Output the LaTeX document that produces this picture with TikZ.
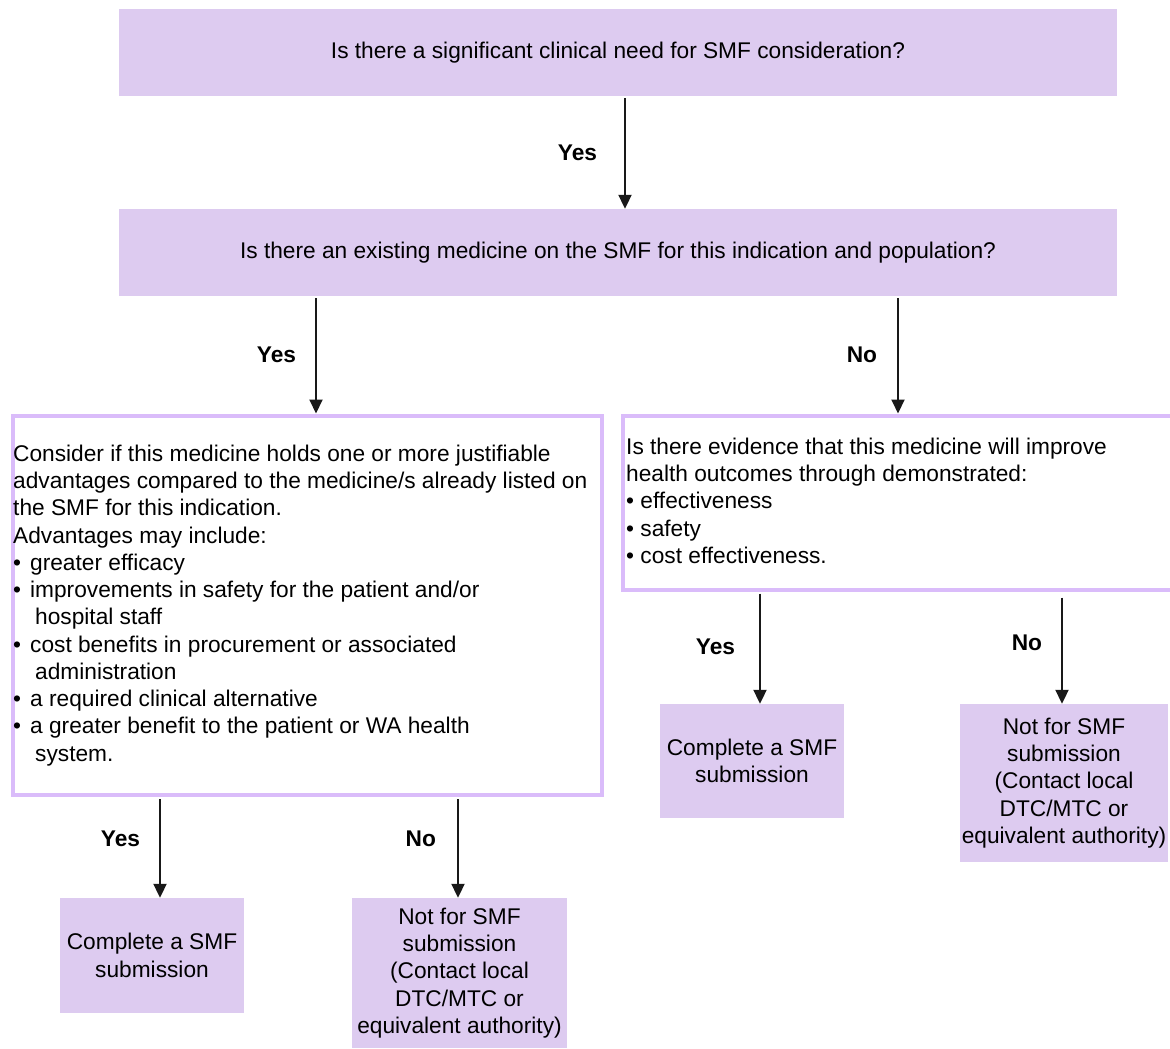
\documentclass[tikz,border=0pt]{standalone}
\usepackage{fontspec}
\setmainfont{Liberation Sans}
\usetikzlibrary{arrows.meta}
\definecolor{lav}{RGB}{221,203,240}
\definecolor{lavline}{RGB}{218,188,250}
\newcommand{\lbul}{\makebox[17pt][l]{•}}
\begin{document}
\begin{tikzpicture}[x=1pt,y=-1pt,
  fsz/.style={font=\fontsize{22.7}{27.25}\selectfont},
  filled/.style={fsz, fill=lav, draw=none, inner sep=0pt, align=center, text=black},
  wbox/.style={draw=lavline, line width=4pt, fill=none, inner sep=0pt, anchor=north west},
  btext/.style={fsz, anchor=north west, align=left, inner sep=0pt},
  arr/.style={line width=2pt, draw=black!90, -{Triangle[width=13pt,length=14pt]}, shorten <=2pt},
  lbl/.style={fsz, font=\fontsize{22.7}{27.25}\selectfont\bfseries, inner sep=0pt}
]
\clip (0,0) rectangle (1170,1049);
\fill[white] (0,0) rectangle (1170,1049);

% filled boxes
\node[filled, minimum width=998pt, minimum height=87pt] (q1) at (618,52.5)
  {Is there a significant clinical need for SMF consideration?};
\node[filled, minimum width=998pt, minimum height=87pt] (q2) at (618,252.5)
  {Is there an existing medicine on the SMF for this indication and population?};
\node[filled, minimum width=184pt, minimum height=115pt] (y1) at (152,955.5)
  {Complete a SMF\\submission};
\node[filled, minimum width=215pt, minimum height=150pt] (n1) at (459.5,973)
  {Not for SMF\\submission\\(Contact local\\DTC/MTC or\\equivalent authority)};
\node[filled, minimum width=184pt, minimum height=114pt] (y2) at (752,761)
  {Complete a SMF\\submission};
\node[filled, minimum width=208pt, minimum height=158pt] (n2) at (1064,783)
  {Not for SMF\\submission\\(Contact local\\DTC/MTC or\\equivalent authority)};

% white boxes
\node[wbox, minimum width=589pt, minimum height=379.5pt] (c1) at (10.5,413.5) {};
\node[wbox, minimum width=570pt, minimum height=174pt] (c2) at (621,413.5) {};

\node[btext] (c1t) at (13,442) {\strut Consider if this medicine holds one or more justifiable\\
advantages compared to the medicine/s already listed on\\
the SMF for this indication.\\
Advantages may include:\\
\lbul greater efficacy\\
\lbul improvements in safety for the patient and/or\\
\hspace*{22pt}hospital staff\\
\lbul cost benefits in procurement or associated\\
\hspace*{22pt}administration\\
\lbul a required clinical alternative\\
\lbul a greater benefit to the patient or WA health\\
\hspace*{22pt}system.};

\node[btext] (c2t) at (626,435) {\strut Is there evidence that this medicine will improve\\
health outcomes through demonstrated:\\
• effectiveness\\
• safety\\
• cost effectiveness.};

% connector x positions
\coordinate (xa) at (625,0);
\coordinate (xb) at (316,0);
\coordinate (xc) at (898,0);
\coordinate (xd) at (160,0);
\coordinate (xe) at (458,0);
\coordinate (xf) at (760,0);
\coordinate (xg) at (1062,0);

\draw[arr] (q1.south -| xa) -- (q2.north -| xa)
  node[lbl, midway, left=27pt] (l1) {Yes};
\draw[arr] (q2.south -| xb) -- (c1.north -| xb)
  node[lbl, midway, left=19pt] (l2) {Yes};
\draw[arr] (q2.south -| xc) -- (c2.north -| xc)
  node[lbl, midway, left=20pt] (l3) {No};
\draw[arr] (c1.south -| xd) -- (y1.north -| xd)
  node[lbl, midway, left=19pt, yshift=9pt] (l4) {Yes};
\draw[arr] (c1.south -| xe) -- (n1.north -| xe)
  node[lbl, midway, left=21pt, yshift=9pt] (l5) {No};
\draw[arr] (c2.south -| xf) -- (y2.north -| xf)
  node[lbl, midway, left=24pt, yshift=1pt] (l6) {Yes};
\draw[arr, shorten <=6pt] (c2.south -| xg) -- (n2.north -| xg)
  node[lbl, midway, left=19pt, yshift=5pt] (l7) {No};
\end{tikzpicture}
\end{document}
